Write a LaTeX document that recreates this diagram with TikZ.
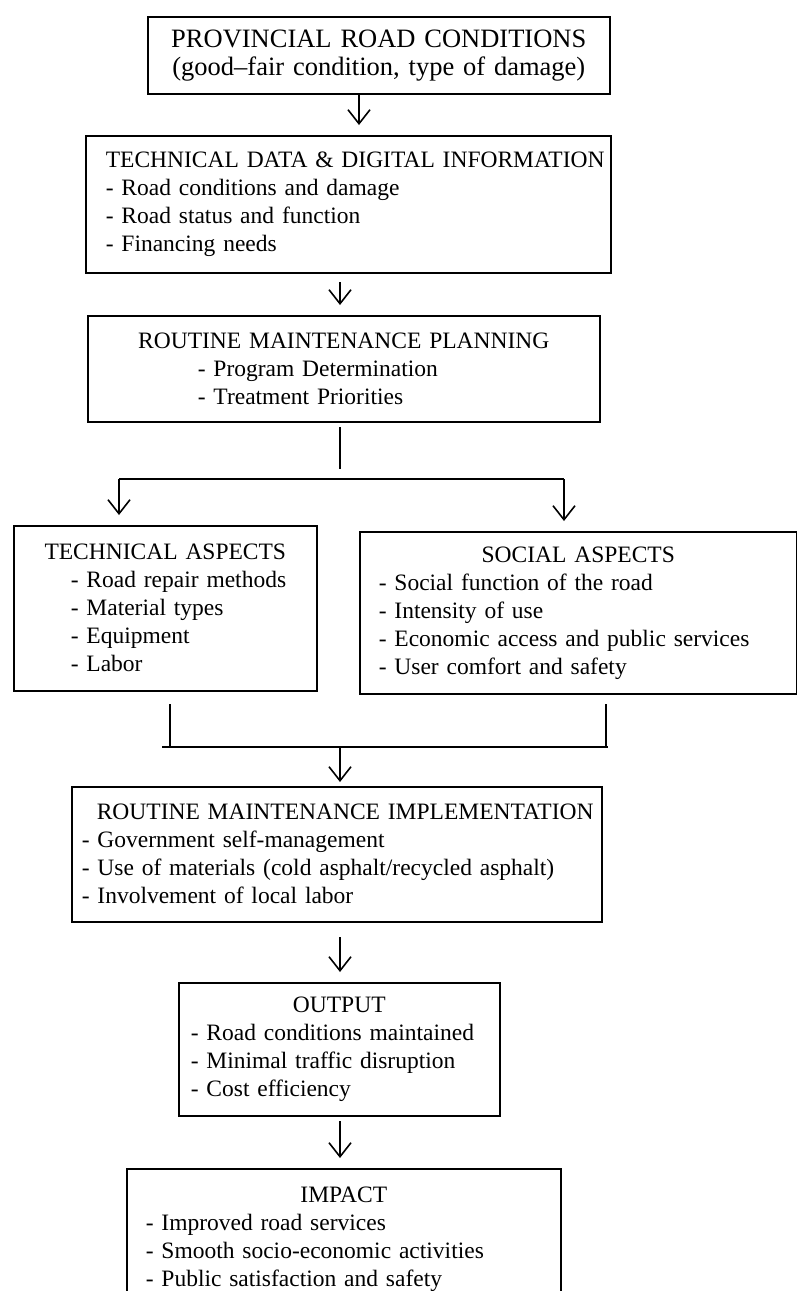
\documentclass[tikz,border=0pt]{standalone}
\usepackage{fontspec}
\setmainfont{Liberation Serif}
\usetikzlibrary{arrows.meta}

\newlength{\boxpad}
\newcommand{\boxhead}[1]{\makebox[\hsize]{#1}}
\newcommand{\bitem}[1]{\hspace*{\boxpad}- #1}

\begin{document}
\begin{tikzpicture}[
  x=0.5pt, y=-0.5pt,
  box/.style={draw, line width=0.8pt, anchor=north west, inner sep=0pt, align=left,
    font=\fontsize{11.75}{14}\selectfont},
  pad/.style={execute at begin node={\parindent=0pt\setlength{\boxpad}{#1}}},
  arr/.style={->, >={Straight Barb[length=7pt,width=11pt]}, line width=0.8pt, shorten >=5pt},
  link/.style={line width=0.8pt}
]
\useasboundingbox (0,0) rectangle (797,1291);

% boxes
\node[box, pad=0pt, align=center, text width=231pt, minimum height=38.5pt,
  font=\fontsize{13.25}{14}\selectfont] (roadcond) at (147,16)
  {PROVINCIAL ROAD CONDITIONS\\(good--fair condition, type of damage)};
\node[box, pad=10pt, text width=262.5pt, minimum height=68.5pt] (techdata) at (85,135)
  {\hspace*{\boxpad}TECHNICAL DATA \& DIGITAL INFORMATION\\
   \bitem{Road conditions and damage}\\
   \bitem{Road status and function}\\
   \bitem{Financing needs}};
\node[box, pad=55pt, text width=256pt, minimum height=53pt] (planning) at (87,315)
  {\boxhead{ROUTINE MAINTENANCE PLANNING}\\
   \bitem{Program Determination}\\
   \bitem{Treatment Priorities}};
\node[box, pad=28.5pt, text width=151.5pt, minimum height=82.5pt] (techasp) at (13,525)
  {\boxhead{TECHNICAL ASPECTS}\\
   \bitem{Road repair methods}\\
   \bitem{Material types}\\
   \bitem{Equipment}\\
   \bitem{Labor}};
\node[box, pad=9.5pt, text width=218.5pt, minimum height=81pt] (socasp) at (359,531)
  {\boxhead{SOCIAL ASPECTS}\\
   \bitem{Social function of the road}\\
   \bitem{Intensity of use}\\
   \bitem{Economic access and public services}\\
   \bitem{User comfort and safety}};
\node[box, pad=5pt, text width=265pt, minimum height=67.5pt] (implement) at (71,786)
  {\hspace*{\boxpad}\hspace*{7.5pt}ROUTINE MAINTENANCE IMPLEMENTATION\\
   \bitem{Government self-management}\\
   \bitem{Use of materials (cold asphalt/recycled asphalt)}\\
   \bitem{Involvement of local labor}};
\node[box, pad=6pt, text width=160.5pt, minimum height=66.5pt] (output) at (178,982)
  {\boxhead{OUTPUT}\\
   \bitem{Road conditions maintained}\\
   \bitem{Minimal traffic disruption}\\
   \bitem{Cost efficiency}};
\node[box, pad=9.5pt, text width=217pt, minimum height=70pt] (impact) at (126,1168)
  {\boxhead{IMPACT}\\
   \bitem{Improved road services}\\
   \bitem{Smooth socio-economic activities}\\
   \bitem{Public satisfaction and safety}};

% junction points
\coordinate (a1) at (359,93);
\coordinate (a2) at (340,272);
\coordinate (stubtop) at (340,427);
\coordinate (stubend) at (340,469);
\coordinate (splitl) at (119,479);
\coordinate (splitr) at (564,479);
\coordinate (joinl) at (170,704);
\coordinate (joinr) at (606,704);
\coordinate (barl) at (162,747);
\coordinate (barr) at (608,747);
\coordinate (a3) at (340,747);
\coordinate (a4) at (340,921);
\coordinate (a5) at (340,1115);

% connectors
\draw[arr] (a1) -- (a1 |- techdata.north);
\draw[arr, shorten <=5pt] (a2) -- (a2 |- planning.north);
\draw[link] (stubtop) -- (stubend);
\draw[link] (splitl) -- (splitr);
\draw[arr] (splitl) -- (splitl |- techasp.north);
\draw[arr] (splitr) -- (splitr |- socasp.north);
\draw[link] (joinl) -- (joinl |- barl);
\draw[link] (joinr) -- (joinr |- barr);
\draw[link] (barl) -- (barr);
\draw[arr, shorten >=2pt] (a3) -- (a3 |- implement.north);
\draw[arr, shorten <=8pt] (a4) -- (a4 |- output.north);
\draw[arr, shorten <=3pt] (a5) -- (a5 |- impact.north);

\end{tikzpicture}
\end{document}
